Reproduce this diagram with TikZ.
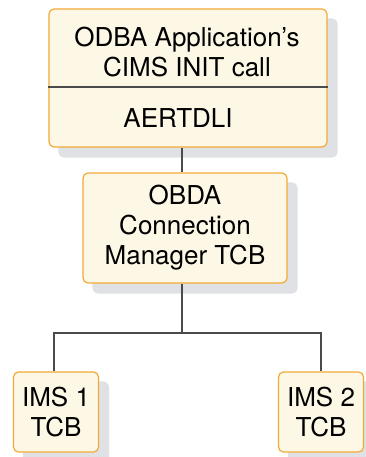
\documentclass[tikz,border=0pt]{standalone}
\usepackage{fontspec}
\setmainfont{TeX Gyre Heros}
\usetikzlibrary{calc,positioning,backgrounds}
\definecolor{tcbedge}{RGB}{242,170,55}
\definecolor{tcbfill}{RGB}{253,247,230}
\definecolor{tcbshade}{RGB}{224,225,228}
\definecolor{tcbline}{RGB}{75,75,75}
\tikzset{
  tcbbox/.style={draw=tcbedge,fill=tcbfill,line width=1.2pt,rounded corners=5pt},
  tcbtext/.style={align=center,font=\fontsize{26}{30}\selectfont,inner sep=0pt},
  tcbwire/.style={draw=tcbline,line width=1.1pt},
  tcbshadow/.style={fill=tcbshade,rounded corners=6pt}
}
\begin{document}
\begin{tikzpicture}[x=1pt,y=-1pt]
        \useasboundingbox (0,0) rectangle (366,457);
        % boxes
        \node[tcbbox,minimum width=278pt,minimum height=138pt] (app) at (188,78) {};
        \node[tcbbox,minimum width=204pt,minimum height=110pt,tcbtext] (mgr) at (185,228) {OBDA\\Connection\\Manager TCB};
        \node[tcbbox,minimum width=85pt,minimum height=80pt,tcbtext] (ims1) at (56,412) {IMS 1\\TCB};
        \node[tcbbox,minimum width=85pt,minimum height=80pt,tcbtext] (ims2) at (321,412) {IMS 2\\TCB};
        % top box contents
        \node[tcbtext] (call) at (187,52) {ODBA Application’s\\CIMS INIT call};
        \node[tcbtext] (dli) at (178,118) {AERTDLI};
        \draw[tcbline,line width=1.1pt] (app.west |- 0,87)--(app.east |- 0,87);
        % wires
        \coordinate (bus) at (182,333);
        \draw[tcbwire] (app.south -| bus)--(mgr.north -| bus);
        \draw[tcbwire] (mgr.south -| bus)--(bus);
        \draw[tcbwire] (ims1.north -| 54,0) |- (bus) -| (ims2.north);
        % shadows
        \begin{scope}[on background layer]
          \fill[white] (0,0) rectangle (366,457);
          \foreach \sh in {app,mgr,ims1,ims2}
            \fill[tcbshadow] ($(\sh.north west)+(10,10)$) rectangle ($(\sh.south east)+(10,10)$);
        \end{scope}
      \end{tikzpicture}
\end{document}
